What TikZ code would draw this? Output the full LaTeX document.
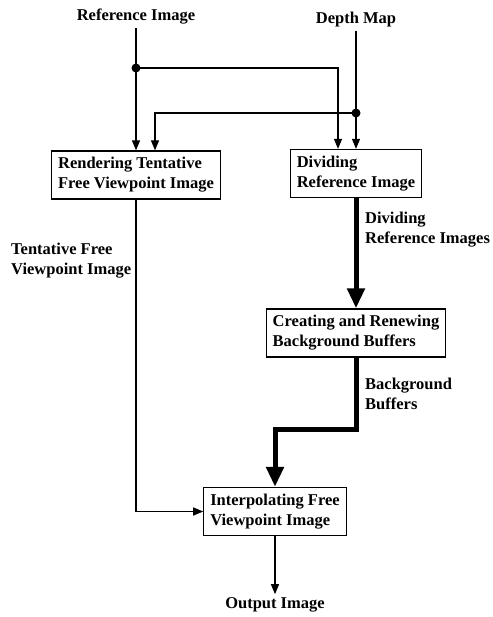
\documentclass[tikz,border=0pt]{standalone}
\usepackage{fontspec}
\setmainfont{Liberation Serif}
\usetikzlibrary{arrows.meta, calc}

\begin{document}
\begin{tikzpicture}[x=1pt,y=-1pt,
  every node/.style={font=\bfseries\fontsize{16.5}{20}\selectfont},
  box/.style={draw,line width=1.2pt,align=left,inner xsep=6.5pt,inner ysep=6.5pt},
  lbl/.style={align=left,inner sep=1pt},
  flow/.style={line width=1.2pt,-{Triangle[length=10pt,width=8pt]}},
  bigflow/.style={line width=5pt,line join=miter,-{Triangle[length=20pt,width=17pt]}},
  dot/.style={circle,fill,inner sep=0pt,minimum size=9pt}]
  \useasboundingbox (0,0) rectangle (492,617);

  % inputs
  \node (ref)   at (136,17) {Reference Image};
  \node (depth) at (356,20) {Depth Map};

  % processing blocks
  \node[box] (render) at (136,175) {Rendering Tentative\\Free Viewpoint Image};
  \node[box] (divide) at (356,173.5) {Dividing\\Reference Image};
  \node[box] (buffer) at (356,333) {Creating and Renewing\\Background Buffers};
  \node[box] (interp) at (275,511.5) {Interpolating Free\\Viewpoint Image};
  \node (out) at (275,605) {Output Image};

  % branch points
  \coordinate (j1) at (136,68);
  \coordinate (j2) at (356,113);

  \draw[flow] (ref) -- (render.north);
  \draw[flow] (depth) -- (divide.north);
  \draw[flow] (j1) -| ($(divide.north)+(-18,0)$);
  \draw[flow] (j2) -| ($(render.north)+(19,0)$);
  \node[dot] at (j1) {};
  \node[dot] at (j2) {};

  \draw[flow] (render.south) |- (interp.west);
  \draw[bigflow] (divide.south) -- (buffer.north);
  \draw[bigflow] (buffer.south) -- ++(0,72) -| (interp.north);
  \draw[flow] (interp.south) -- (out.north);

  % connector labels
  \node[lbl,anchor=west] (lrender) at (10,261) {Tentative Free\\Viewpoint Image};
  \node[lbl,anchor=west] (ldivide) at (364,230) {Dividing\\Reference Images};
  \node[lbl,anchor=west] (lbuffer) at (364,394) {Background\\Buffers};

\end{tikzpicture}
\end{document}
